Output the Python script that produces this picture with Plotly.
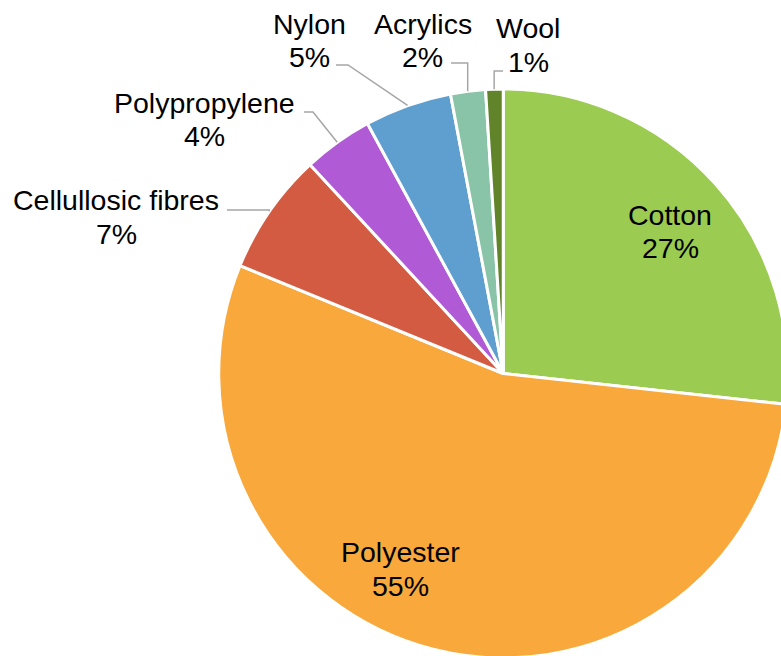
import math
import plotly.graph_objects as go

# ---- data ----
labels = ["Cotton", "Polyester", "Cellullosic fibres", "Polypropylene", "Nylon", "Acrylics", "Wool"]
values = [27, 55, 7, 4, 5, 2, 1]
pct_labels = ["27%", "55%", "7%", "4%", "5%", "2%", "1%"]
colors = ["#9BCB50", "#F9A83C", "#D35B42", "#B05AD6", "#5F9FCF", "#89C4A8", "#61842B"]

# ---- layout constants (pixels) ----
W, H = 788, 658
CX, CY, R = 503, 373.5, 284.5
FONT = dict(family="Liberation Sans, Arial, sans-serif", size=28.5, color="#000000")
LINE_GAP = 33.5
# label centre (x, cap-middle y of first line)
label_pos = [(670, 215), (400, 552), (116, 200.5), (204.5, 103), (309.5, 24), (422.5, 24), (528, 28.5)]
# leader lines: (label-side x, y, elbow x or None -> slice x)
leaders = {2: (227, 210, None), 3: (304, 112, 313), 4: (336, 65, 348), 5: (451, 63, None), 6: (503, 71, None)}


def px(x):
    return x / W


def py(y):
    return 1 - y / H


fig = go.Figure(go.Pie(
    labels=labels, values=values, sort=False, direction="clockwise", rotation=0,
    marker=dict(colors=colors, line=dict(color="#FFFFFF", width=3)),
    textinfo="none", hoverinfo="label+percent", showlegend=False,
    domain=dict(x=[(CX - R) / W, 1], y=[0, 1 - (CY - R) / H]),
))

total = sum(values)
cum = 0.0
annotations = []
shapes = []
for i, (lab, v, pl) in enumerate(zip(labels, values, pct_labels)):
    frac = v / total
    theta = 2 * math.pi * (cum + frac / 2)
    cum += frac
    x0, y0 = label_pos[i]
    annotations.append(dict(x=px(x0), y=py(y0), xref="paper", yref="paper", text=lab,
                            showarrow=False, font=FONT, xanchor="center", yanchor="middle"))
    annotations.append(dict(x=px(x0), y=py(y0 + LINE_GAP), xref="paper", yref="paper", text=pl,
                            showarrow=False, font=FONT, xanchor="center", yanchor="middle"))
    if i in leaders:
        lx, ly, ex = leaders[i]
        sx = CX + R * math.sin(theta)
        sy = CY - R * math.cos(theta)
        if ex is None:
            ex = sx
        path = f"M {px(lx)},{py(ly)} L {px(ex)},{py(ly)} L {px(sx)},{py(sy)}"
        shapes.append(dict(type="path", path=path, xref="paper", yref="paper",
                           line=dict(color="#A6A6A6", width=1.5)))

fig.update_layout(
    width=W, height=H, margin=dict(l=0, r=0, t=0, b=0),
    paper_bgcolor="#FFFFFF", plot_bgcolor="#FFFFFF",
    annotations=annotations, shapes=shapes,
)

fig.write_html("out.html", config={"displayModeBar": False}, post_script=(
    "document.body.style.margin='0';document.body.style.overflow='hidden';"
    "document.documentElement.style.overflow='hidden';"))
